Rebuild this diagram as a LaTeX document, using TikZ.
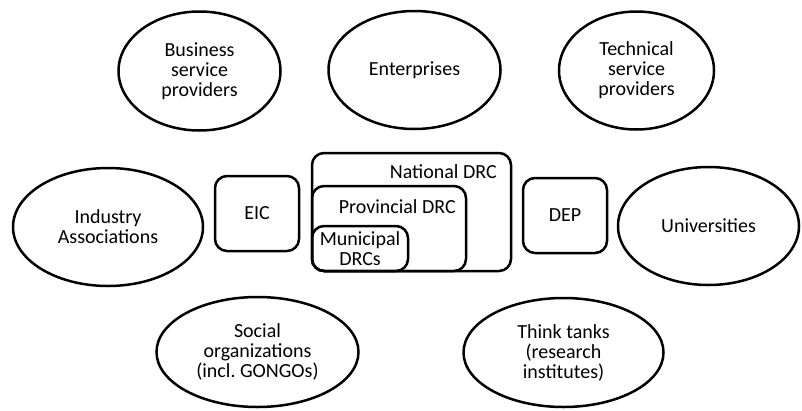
\documentclass[tikz,border=0pt]{standalone}
\usepackage{fontspec}
\setmainfont{Carlito}
\usetikzlibrary{shapes.geometric}

\begin{document}
\begin{tikzpicture}[x=1pt,y=-1pt,line width=2.5pt,font=\fontsize{20}{20}\selectfont]
\useasboundingbox (0,0) rectangle (802,410);

\begin{scope}[every node/.style={ellipse,draw,align=center,inner sep=0pt}]
    \node[minimum width=162pt,minimum height=119pt] (BSP) at (199.5,71) {Business\\service\\providers};
    \node[minimum width=172pt,minimum height=118pt] (ENT) at (414.5,70) {Enterprises};
    \node[minimum width=155pt,minimum height=118pt] (TSP) at (636.5,70.5) {Technical\\service\\providers};
    \node[minimum width=190pt,minimum height=118pt] (IA) at (108,227) {Industry\\Associations};
    \node[minimum width=181pt,minimum height=118pt] (UNI) at (708.5,226) {Universities};
    \node[minimum width=202pt,minimum height=110pt] (SOC) at (257.5,352) {Social\\organizations\\(incl.\ GONGOs)};
    \node[minimum width=200pt,minimum height=109pt] (TT) at (563.5,352.5) {Think tanks\\(research\\institutes)};
\end{scope}

\begin{scope}[every node/.style={rectangle,rounded corners=12pt,draw,align=center,inner sep=0pt}]
    \node[minimum width=84pt,minimum height=75pt] (EIC) at (257,213.5) {EIC};
    \node[minimum width=84pt,minimum height=75pt] (DEP) at (565,215.5) {DEP};
    \node[minimum width=199pt,minimum height=118pt] (NAT) at (411.5,212) {};
    \node[minimum width=154pt,minimum height=85pt] (PROV) at (389,228.5) {};
    \node[minimum width=96pt,minimum height=45pt] (MUN) at (360,248.5) {Municipal\\DRCs};
\end{scope}

\node[anchor=base east,inner sep=0pt] (NATlbl) at (498,178) {National DRC};
\node[anchor=base east,inner sep=0pt] (PROVlbl) at (457,213) {Provincial DRC};
\end{tikzpicture}
\end{document}
